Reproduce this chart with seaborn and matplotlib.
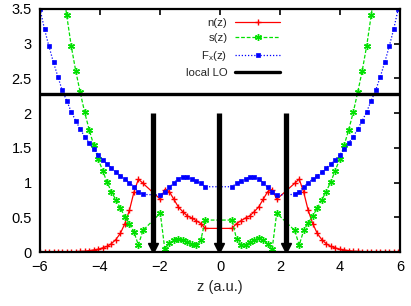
import matplotlib
matplotlib.use("Agg")
import matplotlib.pyplot as plt
import seaborn as sns
from matplotlib.ticker import FormatStrFormatter

# ---------------- data ----------------
z = [-6.00, -5.85, -5.70, -5.55, -5.40, -5.26, -5.11, -4.96, -4.81, -4.66, -4.51, -4.36,
     -4.21, -4.06, -3.91, -3.77, -3.62, -3.47, -3.32, -3.17, -3.02, -2.87, -2.72, -2.57,
     -1.99, -1.84, -1.69, -1.54, -1.39, -1.24, -1.09, -0.94, -0.79, -0.64, -0.49,
     0.40, 0.55, 0.70, 0.85, 0.99, 1.14, 1.29, 1.44, 1.59, 1.74, 1.89,
     2.49, 2.64, 2.79, 2.94, 3.09, 3.24, 3.39, 3.54, 3.69, 3.84, 3.99, 4.14,
     4.29, 4.44, 4.59, 4.74, 4.89, 5.04, 5.19, 5.34, 5.49, 5.64, 5.79, 5.94]

n_z = [0, 0, 0, 0, 0, 0, 0, 0, 0.005, 0.008, 0.01, 0.02,
       0.03, 0.04, 0.06, 0.08, 0.12, 0.18, 0.27, 0.41, 0.60, 0.86, 1.05, 0.99,
       0.76, 0.90, 0.87, 0.76, 0.65, 0.58, 0.52, 0.49, 0.45, 0.41, 0.34,
       0.34, 0.41, 0.45, 0.49, 0.52, 0.58, 0.65, 0.76, 0.87, 0.90, 0.76,
       0.99, 1.05, 0.86, 0.60, 0.41, 0.27, 0.18, 0.12, 0.08, 0.06, 0.04, 0.03,
       0.02, 0.01, 0.008, 0.005, 0, 0, 0, 0, 0, 0, 0, 0]

Fx_z = [3.50, 3.21, 2.96, 2.73, 2.52, 2.33, 2.18, 2.02, 1.89, 1.77, 1.66, 1.57,
        1.48, 1.40, 1.33, 1.27, 1.21, 1.15, 1.10, 1.05, 1.00, 0.94, 0.87, 0.83,
        0.82, 0.87, 0.93, 1.00, 1.05, 1.08, 1.08, 1.05, 1.02, 0.99, 0.94,
        0.94, 0.99, 1.02, 1.05, 1.08, 1.08, 1.05, 1.00, 0.93, 0.87, 0.82,
        0.83, 0.87, 0.94, 1.00, 1.05, 1.10, 1.15, 1.21, 1.27, 1.33, 1.40, 1.48,
        1.57, 1.66, 1.77, 1.89, 2.02, 2.18, 2.33, 2.52, 2.73, 2.96, 3.21, 3.50]

z_s = [-5.26, -5.11, -4.96, -4.81, -4.66, -4.51, -4.36, -4.21, -4.06, -3.91, -3.77,
       -3.62, -3.47, -3.32, -3.17, -3.02, -2.87, -2.72, -2.57,
       -1.99, -1.84, -1.69, -1.54, -1.39, -1.24, -1.09, -0.94, -0.79, -0.64, -0.49,
       0.40, 0.55, 0.70, 0.85, 0.99, 1.14, 1.29, 1.44, 1.59, 1.74, 1.89,
       2.49, 2.64, 2.79, 2.94, 3.09, 3.24, 3.39, 3.54, 3.69, 3.84, 3.99,
       4.14, 4.29, 4.44, 4.59, 4.74, 4.89, 5.04, 5.19]
s_z = [3.88, 3.41, 2.97, 2.61, 2.30, 2.01, 1.76, 1.54, 1.34, 1.17, 1.01,
       0.87, 0.75, 0.63, 0.51, 0.41, 0.29, 0.10, 0.31,
       0.56, 0.04, 0.13, 0.17, 0.19, 0.18, 0.15, 0.11, 0.10, 0.17, 0.46,
       0.46, 0.19, 0.10, 0.10, 0.14, 0.17, 0.20, 0.17, 0.12, 0.05, 0.56,
       0.31, 0.10, 0.31, 0.42, 0.52, 0.63, 0.75, 0.87, 1.01, 1.17, 1.34,
       1.54, 1.76, 2.01, 2.30, 2.61, 2.97, 3.41, 3.88]

lo_level = 2.27
lo_pos = [-2.25, -0.05, 2.2]
lo_top = 2.0

x_ticks = [-6, -4, -2, 0, 2, 4, 6]
y_ticks = [0, 0.5, 1, 1.5, 2, 2.5, 3, 3.5]

# ---------------- style ----------------
sns.set_style("white")
plt.rcParams['font.family'] = ['Liberation Sans', 'DejaVu Sans']
plt.rcParams['mathtext.fontset'] = 'custom'
plt.rcParams['mathtext.rm'] = 'Liberation Sans'
plt.rcParams['mathtext.it'] = 'Liberation Sans'

RED, GREEN, BLUE = '#ff0000', '#00e000', '#0000ff'

fig = plt.figure(figsize=(4.11, 3.06), dpi=100)
ax = fig.add_axes([40 / 411, 1 - 252 / 306, 360 / 411, 243 / 306])

sns.lineplot(x=z, y=n_z, ax=ax, color=RED, linewidth=0.9, marker='+',
             markersize=5, markeredgewidth=1.0, markeredgecolor=RED,
             markerfacecolor=RED, label='n(z)')
sns.lineplot(x=z_s, y=s_z, ax=ax, color=GREEN, linewidth=0.9,
             linestyle=(0, (3, 1.5)), marker=(6, 2, 0), markersize=5.0,
             markeredgewidth=1.0, markeredgecolor=GREEN, markerfacecolor=GREEN,
             label='s(z)')
sns.lineplot(x=z, y=Fx_z, ax=ax, color=BLUE, linewidth=0.9,
             linestyle=(0, (1, 1.5)), marker='s', markersize=3.4,
             markeredgewidth=0.5, markeredgecolor=BLUE, markerfacecolor=BLUE,
             label=r'F$_x$(z)')

# local LO: horizontal line + vertical arrows
ax.axhline(lo_level, color='black', linewidth=2.4, label='local LO')
ax.vlines(lo_pos, 0.1, lo_top, color='black', linewidth=3.8)
ax.plot(lo_pos, [0.06] * len(lo_pos), linestyle='none', marker='v',
        markersize=6.5, color='black')

ax.set_xlim(-6, 6)
ax.set_ylim(0, 3.5)
ax.set_xticks(x_ticks)
ax.set_yticks(y_ticks)
ax.yaxis.set_major_formatter(FormatStrFormatter('%g'))
ax.tick_params(direction='in', length=4, width=1.2, top=True, right=True,
               labelsize=10.5, pad=6, colors='black')
ax.tick_params(axis='x', pad=6)
for sp in ax.spines.values():
    sp.set_linewidth(1.6)
    sp.set_color('black')
    sp.set_visible(True)

ax.set_xlabel('z (a.u.)', fontsize=10.5, labelpad=4)
ax.set_ylabel('')

leg = ax.legend(loc='upper right', bbox_to_anchor=(0.685, 0.99), frameon=False,
                markerfirst=False, fontsize=8.2, handlelength=3.9,
                handletextpad=0.7, labelspacing=0.45, numpoints=1,
                borderaxespad=0.2)

fig.savefig('out.png', dpi=100)
